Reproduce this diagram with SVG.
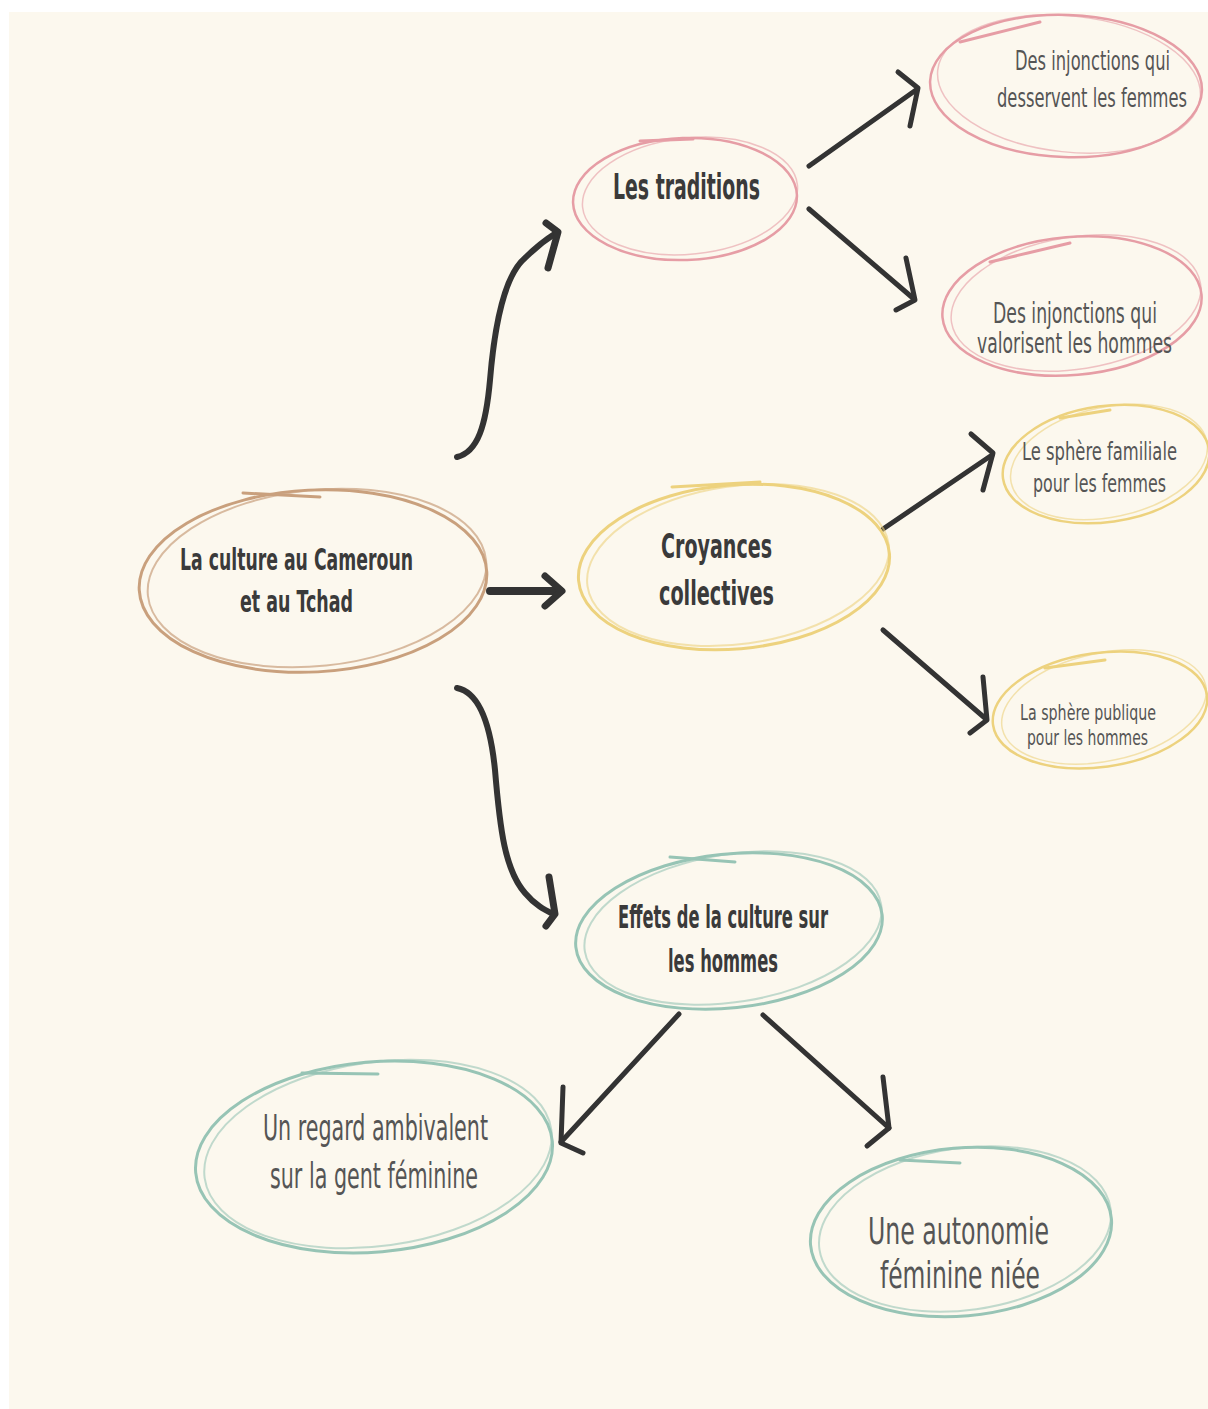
<svg xmlns="http://www.w3.org/2000/svg" width="1208" height="1409" viewBox="0 0 1208 1409">
<style>
  .ring{fill:none;stroke-linecap:round}
  .pink{stroke:#E69DA5}
  .yellow{stroke:#EDD27E}
  .brown{stroke:#C9A07D}
  .teal{stroke:#97C4B5}
  .t{font-family:"DejaVu Sans","Liberation Sans",sans-serif;font-stretch:condensed;text-anchor:start}
  .b{font-weight:bold;fill:#3a3a3a}
  .r{font-weight:normal;fill:#555555}
  .c{fill:none;stroke:#333333;stroke-linecap:round;stroke-linejoin:round}
</style>
<rect x="0" y="0" width="1208" height="1409" fill="#ffffff"/>
<rect x="9" y="12" width="1199" height="1397" fill="#FCF8EE"/>

<g id="connectors">
  <path class="c" stroke-width="6" d="M457,457 C478,452 486,425 490,380 C495,320 505,275 525,258 C535,248 545,240 556,233"/>
  <polyline class="c" stroke-width="7" points="546,223 558,232 548,268"/>
  <path class="c" stroke-width="8" d="M490,591 L560,591"/>
  <polyline class="c" stroke-width="7" points="545,576 562,591 545,606"/>
  <path class="c" stroke-width="6" d="M457,688 C478,692 490,720 495,770 C500,830 505,870 525,893 C535,905 545,910 553,914"/>
  <polyline class="c" stroke-width="7" points="549,877 555,914 546,926"/>
  <path class="c" stroke-width="5" d="M809,166 L916,90"/>
  <polyline class="c" stroke-width="5" points="898,72 918,88 910,126"/>
  <path class="c" stroke-width="5" d="M809,209 L914,299"/>
  <polyline class="c" stroke-width="5" points="906,258 915,300 896,310"/>
  <path class="c" stroke-width="5" d="M883,529 L992,455"/>
  <polyline class="c" stroke-width="5" points="971,434 993,453 983,490"/>
  <path class="c" stroke-width="5" d="M883,630 L986,719"/>
  <polyline class="c" stroke-width="5" points="983,677 987,720 970,733"/>
  <path class="c" stroke-width="5" d="M679,1014 L561,1142"/>
  <polyline class="c" stroke-width="5" points="563,1087 561,1143 583,1153"/>
  <path class="c" stroke-width="5" d="M763,1015 L889,1128"/>
  <polyline class="c" stroke-width="5" points="883,1077 889,1128 867,1146"/>
</g>

<g id="node-root">
  <ellipse class="ring brown" cx="313" cy="581" rx="174" ry="91" stroke-width="3" transform="rotate(-3 313 581)"/>
  <ellipse class="ring brown" cx="317" cy="578" rx="170" ry="88" stroke-width="2" opacity="0.7" transform="rotate(-6 317 578)"/>
  <path class="ring brown" stroke-width="3" d="M243,493 L320,497"/>
  <text class="t b" font-size="31" x="180" y="570" textLength="233" lengthAdjust="spacingAndGlyphs">La culture au Cameroun</text>
  <text class="t b" font-size="31" x="240" y="612" textLength="113" lengthAdjust="spacingAndGlyphs">et au Tchad</text>
</g>

<g id="node-traditions">
  <ellipse class="ring pink" cx="685" cy="199" rx="112" ry="61" stroke-width="2.5" transform="rotate(-2 685 199)"/>
  <ellipse class="ring pink" cx="690" cy="196" rx="108" ry="58" stroke-width="1.5" opacity="0.6" transform="rotate(-6 690 196)"/>
  <path class="ring pink" stroke-width="3" d="M640,141 L693,139"/>
  <text class="t b" font-size="35" x="613" y="199" textLength="147" lengthAdjust="spacingAndGlyphs">Les traditions</text>
</g>

<g id="node-desservent">
  <ellipse class="ring pink" cx="1066" cy="86" rx="136" ry="71" stroke-width="2.5" transform="rotate(2 1066 86)"/>
  <ellipse class="ring pink" cx="1069" cy="84" rx="132" ry="68" stroke-width="1.5" opacity="0.6" transform="rotate(6 1069 84)"/>
  <path class="ring pink" stroke-width="3" d="M960,42 L1040,22"/>
  <text class="t r" font-size="26" x="1015" y="70" textLength="155" lengthAdjust="spacingAndGlyphs">Des injonctions qui</text>
  <text class="t r" font-size="26" x="997" y="107" textLength="190" lengthAdjust="spacingAndGlyphs">desservent les femmes</text>
</g>

<g id="node-valorisent">
  <ellipse class="ring pink" cx="1072" cy="306" rx="130" ry="69" stroke-width="2.5" transform="rotate(-5 1072 306)"/>
  <ellipse class="ring pink" cx="1076" cy="303" rx="126" ry="66" stroke-width="1.5" opacity="0.6" transform="rotate(-9 1076 303)"/>
  <path class="ring pink" stroke-width="3" d="M990,262 L1070,243"/>
  <text class="t r" font-size="28" x="993" y="323" textLength="164" lengthAdjust="spacingAndGlyphs">Des injonctions qui</text>
  <text class="t r" font-size="28" x="977" y="353" textLength="195" lengthAdjust="spacingAndGlyphs">valorisent les hommes</text>
</g>

<g id="node-croyances">
  <ellipse class="ring yellow" cx="734" cy="567" rx="156" ry="82" stroke-width="3" transform="rotate(-5 734 567)"/>
  <ellipse class="ring yellow" cx="738" cy="565" rx="152" ry="79" stroke-width="2" opacity="0.6" transform="rotate(-8 738 565)"/>
  <path class="ring yellow" stroke-width="3" d="M672,487 L760,482"/>
  <text class="t b" font-size="34" x="661" y="558" textLength="111" lengthAdjust="spacingAndGlyphs">Croyances</text>
  <text class="t b" font-size="34" x="659" y="605" textLength="115" lengthAdjust="spacingAndGlyphs">collectives</text>
</g>

<g id="node-familiale">
  <ellipse class="ring yellow" cx="1106" cy="464" rx="104" ry="58" stroke-width="2.5" transform="rotate(-8 1106 464)"/>
  <ellipse class="ring yellow" cx="1109" cy="462" rx="100" ry="55" stroke-width="1.5" opacity="0.6" transform="rotate(-12 1109 462)"/>
  <path class="ring yellow" stroke-width="3" d="M1060,418 L1110,410"/>
  <text class="t r" font-size="24" x="1022" y="460" textLength="155" lengthAdjust="spacingAndGlyphs">Le sphère familiale</text>
  <text class="t r" font-size="24" x="1033" y="492" textLength="133" lengthAdjust="spacingAndGlyphs">pour les femmes</text>
</g>

<g id="node-publique">
  <ellipse class="ring yellow" cx="1100" cy="710" rx="108" ry="57" stroke-width="2.5" transform="rotate(-8 1100 710)"/>
  <ellipse class="ring yellow" cx="1104" cy="707" rx="104" ry="54" stroke-width="1.5" opacity="0.6" transform="rotate(-12 1104 707)"/>
  <path class="ring yellow" stroke-width="3" d="M1045,668 L1105,660"/>
  <text class="t r" font-size="22" x="1020" y="720" textLength="136" lengthAdjust="spacingAndGlyphs">La sphère publique</text>
  <text class="t r" font-size="22" x="1027" y="745" textLength="121" lengthAdjust="spacingAndGlyphs">pour les hommes</text>
</g>

<g id="node-effets">
  <ellipse class="ring teal" cx="729" cy="931" rx="154" ry="77" stroke-width="3" transform="rotate(-6 729 931)"/>
  <ellipse class="ring teal" cx="733" cy="928" rx="150" ry="74" stroke-width="2" opacity="0.6" transform="rotate(-9 733 928)"/>
  <path class="ring teal" stroke-width="3" d="M670,857 L735,862"/>
  <text class="t b" font-size="32" x="618" y="928" textLength="210" lengthAdjust="spacingAndGlyphs">Effets de la culture sur</text>
  <text class="t b" font-size="32" x="668" y="972" textLength="110" lengthAdjust="spacingAndGlyphs">les hommes</text>
</g>

<g id="node-regard">
  <ellipse class="ring teal" cx="374" cy="1157" rx="179" ry="95" stroke-width="3" transform="rotate(-5 374 1157)"/>
  <ellipse class="ring teal" cx="378" cy="1154" rx="175" ry="92" stroke-width="2" opacity="0.6" transform="rotate(-8 378 1154)"/>
  <path class="ring teal" stroke-width="3" d="M302,1073 L378,1074"/>
  <text class="t r" font-size="36" x="263" y="1140" textLength="225" lengthAdjust="spacingAndGlyphs">Un regard ambivalent</text>
  <text class="t r" font-size="36" x="270" y="1188" textLength="208" lengthAdjust="spacingAndGlyphs">sur la gent féminine</text>
</g>

<g id="node-autonomie">
  <ellipse class="ring teal" cx="961" cy="1232" rx="151" ry="84" stroke-width="3" transform="rotate(-5 961 1232)"/>
  <ellipse class="ring teal" cx="965" cy="1229" rx="147" ry="81" stroke-width="2" opacity="0.6" transform="rotate(-8 965 1229)"/>
  <path class="ring teal" stroke-width="3" d="M900,1160 L960,1163"/>
  <text class="t r" font-size="38" x="868" y="1244" textLength="181" lengthAdjust="spacingAndGlyphs">Une autonomie</text>
  <text class="t r" font-size="38" x="880" y="1288" textLength="160" lengthAdjust="spacingAndGlyphs">féminine niée</text>
</g>
</svg>
